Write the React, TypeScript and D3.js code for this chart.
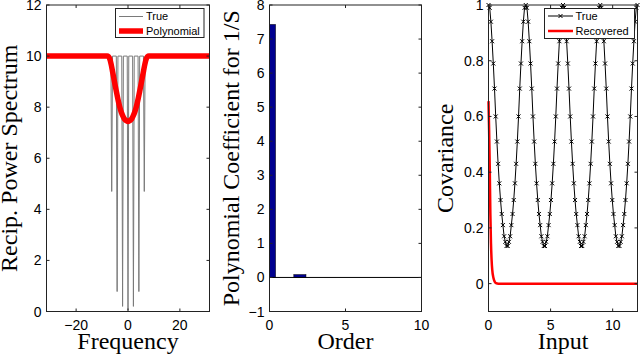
import React from "react";
import * as d3 from "d3";

// ---- panel 1: reciprocal power spectrum
const trueFreq = [-31.42, -6.6, -6.28, -5.96, -4.5, -4.19, -3.88, -2.4, -2.09, -1.78, -0.3, 0, 0.3,
  1.78, 2.09, 2.4, 3.88, 4.19, 4.5, 5.96, 6.28, 6.6, 31.42];
const trueSpec = [10, 10, 4.7, 10, 10, 0.78, 10, 10, 0.2, 10, 10, 0.05, 10,
  10, 0.2, 10, 10, 0.78, 10, 10, 4.7, 10, 10];
const polyFreq = [-31.42, -9, -8, -7.5, -7, -6.5, -6, -5.5, -5, -4.5, -4, -3.5, -3, -2.5, -2, -1.5, -1, -0.5, 0,
  0.5, 1, 1.5, 2, 2.5, 3, 3.5, 4, 4.5, 5, 5.5, 6, 6.5, 7, 7.5, 8, 9, 31.42];
const polySpec = [10, 10, 10, 9.98, 9.88, 9.68, 9.42, 9.15, 8.88, 8.62, 8.37, 8.14, 7.94, 7.78, 7.66, 7.56, 7.5, 7.46, 7.44,
  7.46, 7.5, 7.56, 7.66, 7.78, 7.94, 8.14, 8.37, 8.62, 8.88, 9.15, 9.42, 9.68, 9.88, 9.98, 10, 10, 10];
const specXTicks = [-20, 0, 20];
const specYTicks = [0, 2, 4, 6, 8, 10, 12];

// ---- panel 2: polynomial coefficients
const orders = [0, 1, 2, 3, 4, 5, 6, 7, 8, 9, 10];
const coefs = [7.43, 0, 0.085, 0, -0.008, 0, 0, 0, 0, 0, 0];
const coefXTicks = [0, 5, 10];
const coefYTicks = [-1, 0, 1, 2, 3, 4, 5, 6, 7, 8];

// ---- panel 3: covariance
const trueCov = [
  1.00, 0.99, 0.94, 0.87, 0.79, 0.70, 0.60, 0.51, 0.43, 0.36, 0.30, 0.25, 0.21, 0.17, 0.15, 0.135,
  0.135, 0.15, 0.17, 0.21, 0.25, 0.30, 0.36, 0.43, 0.51, 0.60, 0.70, 0.79, 0.87, 0.94, 0.99,
  1.00, 0.99, 0.94, 0.87, 0.79, 0.70, 0.60, 0.51, 0.43, 0.36, 0.30, 0.25, 0.21, 0.17, 0.15, 0.135,
  0.135, 0.15, 0.17, 0.21, 0.25, 0.30, 0.36, 0.43, 0.51, 0.60, 0.70, 0.79, 0.87, 0.94, 0.99,
  1.00, 0.99, 0.94, 0.87, 0.79, 0.70, 0.60, 0.51, 0.43, 0.36, 0.30, 0.25, 0.21, 0.17, 0.15, 0.135,
  0.135, 0.15, 0.17, 0.21, 0.25, 0.30, 0.36, 0.43, 0.51, 0.60, 0.70, 0.79, 0.87, 0.94, 0.99,
  1.00, 0.99, 0.94, 0.87, 0.79, 0.70, 0.60, 0.51, 0.43, 0.36, 0.30, 0.25, 0.21, 0.17, 0.15, 0.135,
  0.135, 0.15, 0.17, 0.21, 0.25, 0.30, 0.36, 0.43, 0.51, 0.60, 0.70, 0.79, 0.87, 0.94, 0.99,
  1.00,
];
const recInput = [0, 0.05, 0.1, 0.15, 0.2, 0.25, 0.3, 0.4, 0.5, 0.6, 0.8, 1, 12];
const recCov = [0.655, 0.55, 0.42, 0.25, 0.145, 0.085, 0.05, 0.02, 0.007, 0.002, 0, 0, 0];
const covXTicks = [0, 5, 10];
const covYTicks = [0, 0.2, 0.4, 0.6, 0.8, 1];

const TOP = 5;
const BOTTOM = 311.5;
const SANS = "Liberation Sans, Arial, sans-serif";
const SERIF = "Liberation Serif, Times New Roman, serif";
const AXIS = "#222";

const fmt = (v: number) => String(v).replace("-", "\u2212");

function Frame({ x, y, xTicks, yTicks, xLabel, yLabel, yLabelX }: any) {
  const [l, r] = x.range();
  const [b, t] = y.range();
  const tl = 3;
  return (
    <g>
      <rect x={l} y={t} width={r - l} height={b - t} fill="none" stroke={AXIS} strokeWidth={1} />
      {xTicks.map((v: number) => (
        <g key={"x" + v}>
          <line x1={x(v)} x2={x(v)} y1={b} y2={b - tl} stroke={AXIS} />
          <line x1={x(v)} x2={x(v)} y1={t} y2={t + tl} stroke={AXIS} />
          <text x={x(v)} y={329.5} textAnchor="middle" fontFamily={SANS} fontSize={14}>{fmt(v)}</text>
        </g>
      ))}
      {yTicks.map((v: number) => (
        <g key={"y" + v}>
          <line x1={l} x2={l + tl} y1={y(v)} y2={y(v)} stroke={AXIS} />
          <line x1={r} x2={r - tl} y1={y(v)} y2={y(v)} stroke={AXIS} />
          <text x={l - 5} y={y(v)} dy="0.36em" textAnchor="end" fontFamily={SANS} fontSize={14}>{fmt(v)}</text>
        </g>
      ))}
      <text x={(l + r) / 2} y={349} textAnchor="middle" fontFamily={SERIF} fontSize={24}>{xLabel}</text>
      <text transform={`translate(${yLabelX},${(t + b) / 2}) rotate(-90)`} textAnchor="middle"
        fontFamily={SERIF} fontSize={24}>{yLabel}</text>
    </g>
  );
}

function xMarker(cx: number, cy: number, k: string) {
  const s = 2;
  return (
    <path key={k} d={`M${cx - s},${cy - s}L${cx + s},${cy + s}M${cx - s},${cy + s}L${cx + s},${cy - s}`}
      stroke="#000" strokeWidth={1} fill="none" />
  );
}

export default function App() {
  // spectrum panel
  const x1 = d3.scaleLinear().domain([-31.42, 31.42]).range([46.5, 209.5]);
  const y1 = d3.scaleLinear().domain([0, 12]).range([BOTTOM, TOP]);
  const trueLine = d3.line<number>().x((d, i) => x1(trueFreq[i])).y((d) => y1(d));
  const polyLine = d3.line<number>().x((d, i) => x1(polyFreq[i])).y((d) => y1(d)).curve(d3.curveMonotoneX);

  // coefficient panel
  const x2 = d3.scaleLinear().domain([0, 10]).range([269.5, 421.5]);
  const y2 = d3.scaleLinear().domain([-1, 8]).range([BOTTOM, TOP]);
  const bw = x2(0.8) - x2(0);

  // covariance panel
  const x3 = d3.scaleLinear().domain([0, 12]).range([488.5, 637.5]);
  const y3 = d3.scaleLinear().domain([-0.1, 1]).range([BOTTOM, TOP]);
  const covInput = trueCov.map((_, i) => (i * 12) / (trueCov.length - 1));
  const covLine = d3.line<number>().x((d, i) => x3(covInput[i])).y((d) => y3(d));
  const recLine = d3.line<number>().x((d, i) => x3(recInput[i])).y((d) => y3(d)).curve(d3.curveMonotoneX);

  return (
    <svg width={640} height={356} style={{ position: "absolute", left: 0, top: 0, background: "#fff" }}>
      <defs>
        <clipPath id="clip2">
          <rect x={269.5} y={TOP} width={152} height={BOTTOM - TOP} />
        </clipPath>
      </defs>

      {/* panel 1 */}
      <path d={trueLine(trueSpec) || ""} fill="none" stroke="#7a7a7a" strokeWidth={1} />
      <path d={polyLine(polySpec) || ""} fill="none" stroke="#ff0000" strokeWidth={5.5} />
      <Frame x={x1} y={y1} xTicks={specXTicks} yTicks={specYTicks} xLabel="Frequency"
        yLabel="Recip. Power Spectrum" yLabelX={17} />
      <g>
        <rect x={115.5} y={8.5} width={88.5} height={29} fill="#fff" stroke={AXIS} />
        <line x1={119} x2={143} y1={16.5} y2={16.5} stroke="#7a7a7a" />
        <text x={146} y={16.5} dy="0.36em" fontFamily={SANS} fontSize={11}>True</text>
        <line x1={119} x2={143} y1={31} y2={31} stroke="#ff0000" strokeWidth={5.5} />
        <text x={146} y={31} dy="0.36em" fontFamily={SANS} fontSize={11}>Polynomial</text>
      </g>

      {/* panel 2 */}
      <g clipPath="url(#clip2)">
        {orders.map((o, i) => (
          coefs[i] !== 0 ? (
            <rect key={o} x={x2(o) - bw / 2} width={bw}
              y={y2(Math.max(0, coefs[i]))} height={Math.max(0.6, Math.abs(y2(coefs[i]) - y2(0)))}
              fill={coefs[i] < 0 ? "#c8c8d8" : "#00008f"} stroke={coefs[i] < 0 ? "none" : "#000"} strokeWidth={0.5} />
          ) : null
        ))}
      </g>
      <line x1={269.5} x2={421.5} y1={y2(0)} y2={y2(0)} stroke="#000" />
      <Frame x={x2} y={y2} xTicks={coefXTicks} yTicks={coefYTicks} xLabel="Order"
        yLabel="Polynomial Coefficient for 1/S" yLabelX={239} />

      {/* panel 3 */}
      <path d={covLine(trueCov) || ""} fill="none" stroke="#000" strokeWidth={1} />
      {trueCov.map((v, i) => xMarker(x3(covInput[i]), y3(v), "m" + i))}
      <path d={recLine(recCov) || ""} fill="none" stroke="#ff0000" strokeWidth={2.5} />
      <Frame x={x3} y={y3} xTicks={covXTicks} yTicks={covYTicks} xLabel="Input"
        yLabel="Covariance" yLabelX={453} />
      <g>
        <rect x={544.5} y={8.5} width={90} height={30} fill="#fff" stroke={AXIS} />
        <line x1={548} x2={573} y1={16} y2={16} stroke="#000" />
        {xMarker(560.5, 16, "lm")}
        <text x={575.5} y={16} dy="0.36em" fontFamily={SANS} fontSize={11}>True</text>
        <line x1={548} x2={573} y1={31} y2={31} stroke="#ff0000" strokeWidth={2.5} />
        <text x={575.5} y={31} dy="0.36em" fontFamily={SANS} fontSize={11}>Recovered</text>
      </g>
    </svg>
  );
}
